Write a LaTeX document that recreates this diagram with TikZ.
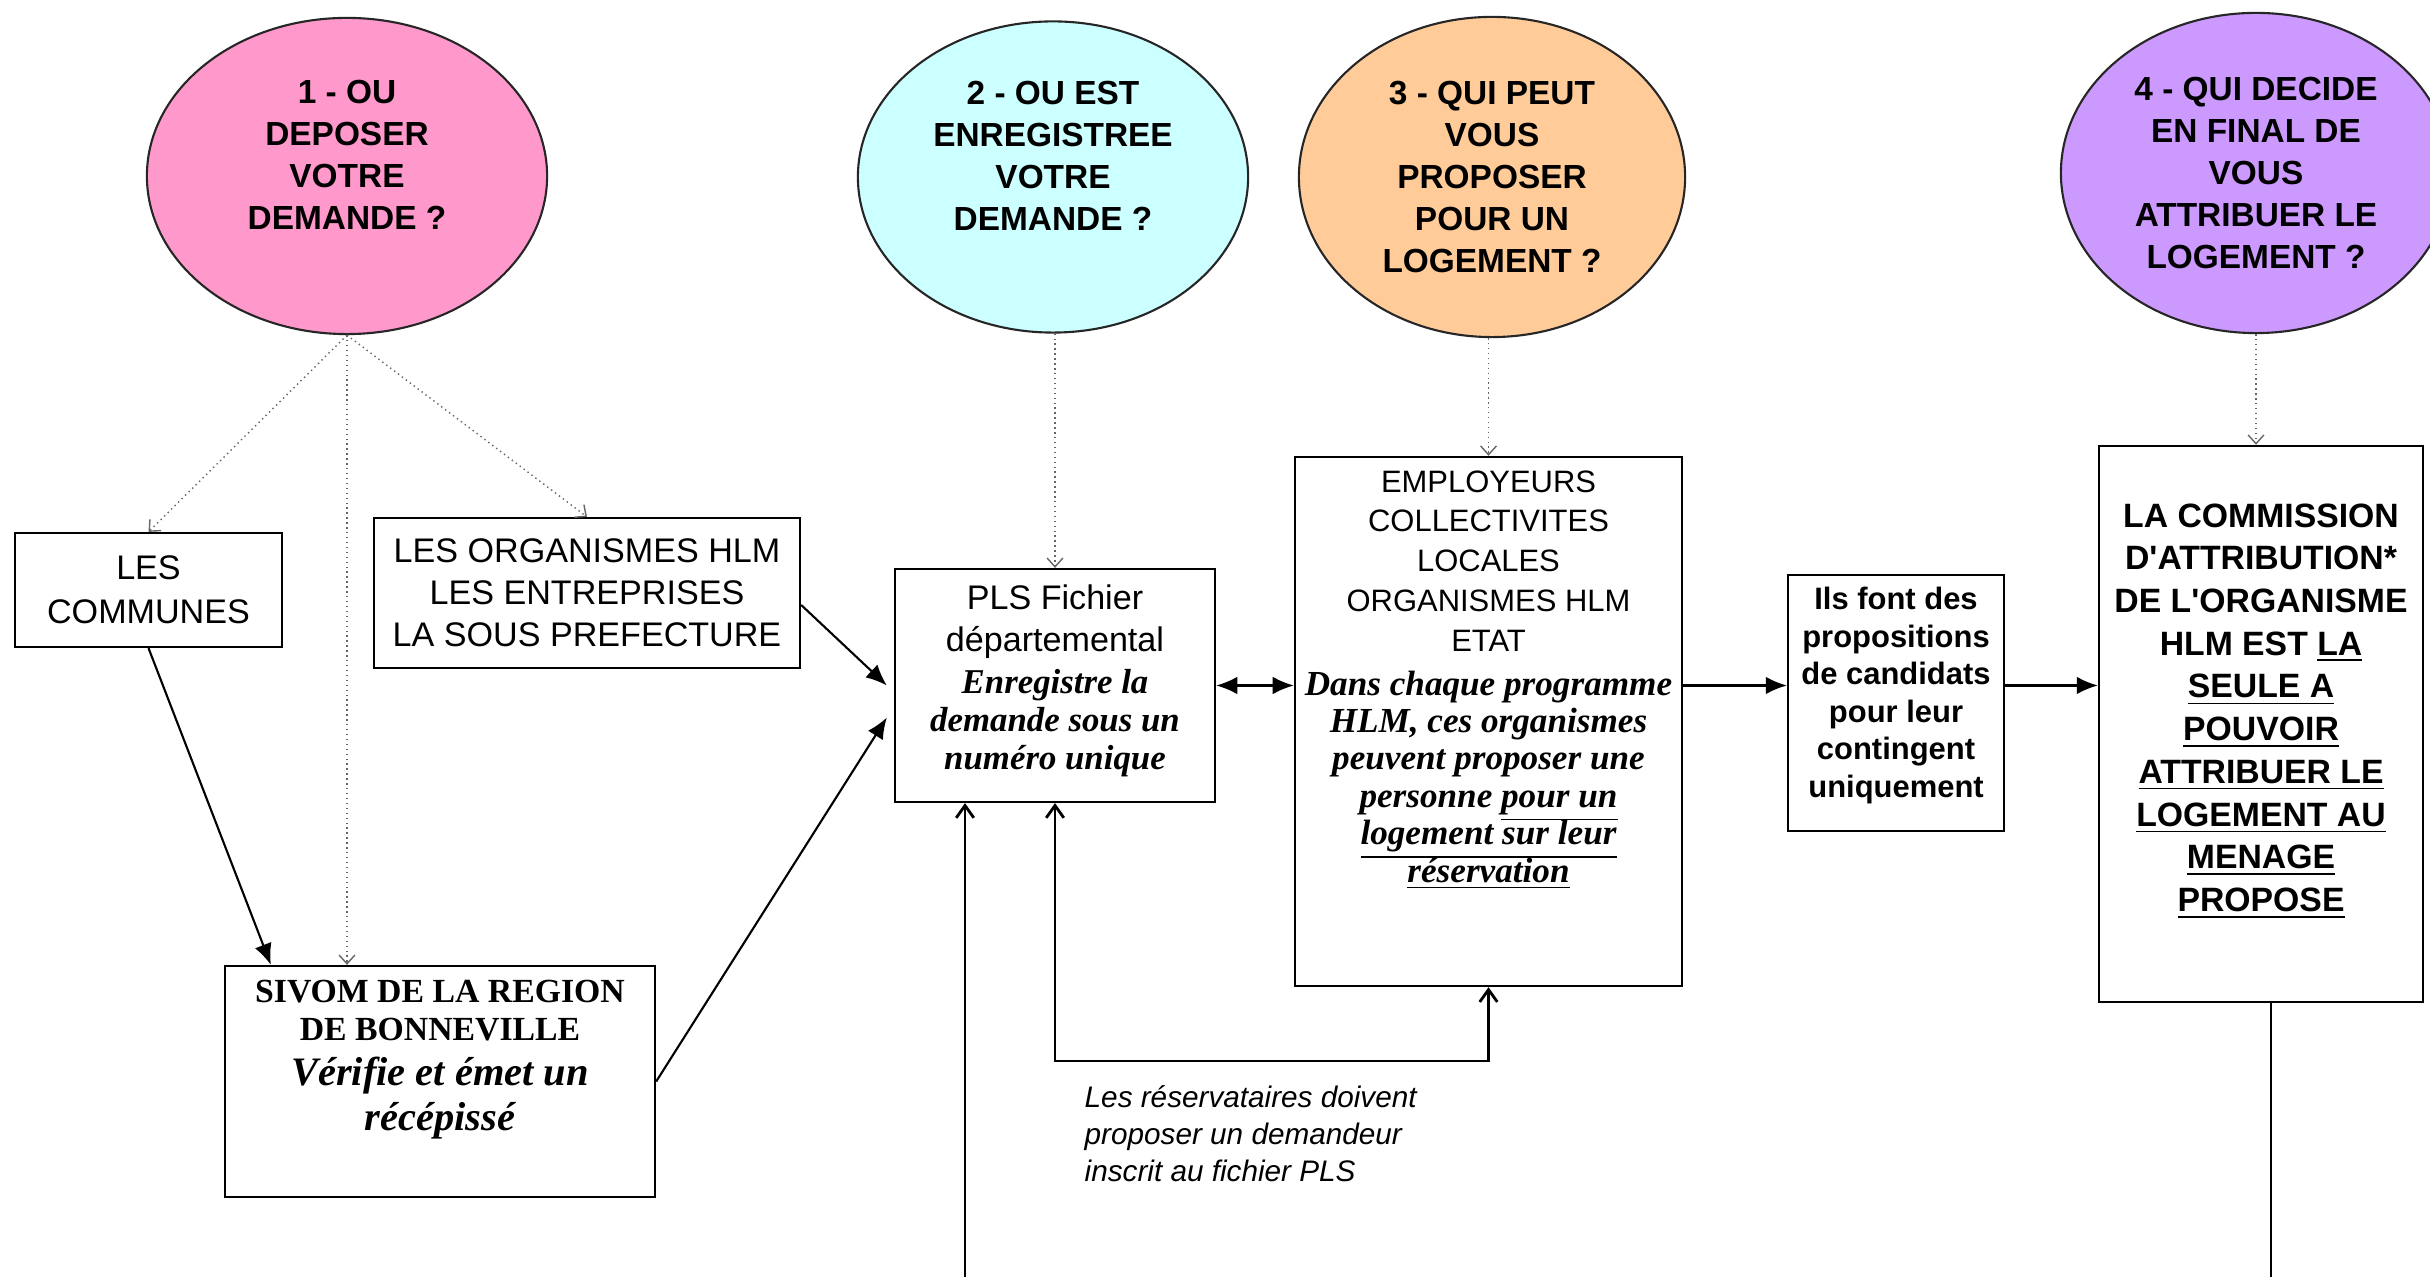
\documentclass[tikz,border=0pt]{standalone}
\usepackage{fontspec}
\setmainfont{Liberation Sans}
\newfontfamily\timesfont{Liberation Serif}
\usetikzlibrary{shapes.geometric,arrows.meta,positioning}

\definecolor{bubblepink}{HTML}{FF99CC}
\definecolor{bubblecyan}{HTML}{CCFFFF}
\definecolor{bubbleorange}{HTML}{FFCC99}
\definecolor{bubblepurple}{HTML}{CC99FF}
\newcommand\ulline[1]{\smash{\underline{#1}}}

\begin{document}
\begin{tikzpicture}[x=0.01cm, y=-0.01cm,
    bubble/.style={ellipse, draw=black!85, line width=0.6pt, inner sep=0pt, align=center, font=\fontsize{9.5}{12}\selectfont\bfseries},
    box/.style={draw, line width=0.6pt, rectangle, inner sep=0pt},
    txt/.style={inner sep=0pt, align=center},
    link/.style={line width=0.6pt, -{Latex[length=6pt,width=5pt]}},
    twoway/.style={line width=0.6pt, {Latex[length=6pt,width=5pt]}-{Latex[length=6pt,width=5pt]}},
    hint/.style={densely dotted, black!60, line width=0.4pt, -{Straight Barb[length=2.5pt,width=4.5pt]}},
    back/.style={line width=0.6pt, -{Straight Barb[length=3.5pt,width=5pt,line width=0.8pt]}},
    backboth/.style={line width=0.6pt, {Straight Barb[length=3.5pt,width=5pt,line width=0.8pt]}-{Straight Barb[length=3.5pt,width=5pt,line width=0.8pt]}}
  ]
    \useasboundingbox (0,0) rectangle (2430,1277);

    % the four questions
    \node[bubble, fill=bubblepink, minimum width=4cm, minimum height=3.16cm] (q1) at (347,176) {1 - OU\\DEPOSER\\VOTRE\\DEMANDE ?\\\mbox{}};
    \node[bubble, fill=bubblecyan, minimum width=3.9cm, minimum height=3.11cm] (q2) at (1053,177) {2 - OU EST\\ENREGISTREE\\VOTRE\\DEMANDE ?\\\mbox{}};
    \node[bubble, fill=bubbleorange, minimum width=3.86cm, minimum height=3.2cm] (q3) at (1492,177) {3 - QUI PEUT\\VOUS\\PROPOSER\\POUR UN\\LOGEMENT ?};
    \node[bubble, fill=bubblepurple, minimum width=3.9cm, minimum height=3.2cm] (q4) at (2256,173) {4 - QUI DECIDE\\EN FINAL DE\\VOUS\\ATTRIBUER LE\\LOGEMENT ?};

    \node[box, txt, minimum width=2.67cm, minimum height=1.14cm, font=\fontsize{9.7}{12.6}\selectfont] (communes) at (148.5,590) {LES\\COMMUNES};
    \node[box, txt, minimum width=4.26cm, minimum height=1.5cm, font=\fontsize{9.7}{12}\selectfont] (orga) at (587,593) {LES ORGANISMES HLM\\LES ENTREPRISES\\LA SOUS PREFECTURE};

    \node[box, minimum width=4.3cm, minimum height=2.31cm] (sivom) at (440,1081.5) {};
    \node[txt, anchor=north, yshift=-0.15cm, font=\timesfont\bfseries\fontsize{9.6}{10.8}\selectfont] (sivomname) at (sivom.north) {SIVOM DE LA REGION\\DE BONNEVILLE};
    \node[txt, anchor=north, yshift=-0.91cm, font=\timesfont\bfseries\itshape\fontsize{11.5}{12.8}\selectfont] (sivomrole) at (sivom.north) {Vérifie et émet un\\récépissé};

    \node[box, minimum width=3.2cm, minimum height=2.33cm] (pls) at (1055,685.5) {};
    \node[txt, anchor=north, yshift=-0.16cm, font=\fontsize{9.7}{12}\selectfont] (plsname) at (pls.north) {PLS Fichier\\départemental};
    \node[txt, anchor=north, yshift=-1.01cm, font=\timesfont\bfseries\itshape\fontsize{9.9}{10.7}\selectfont] (plsrole) at (pls.north) {Enregistre la\\demande sous un\\numéro unique};

    \node[box, minimum width=3.87cm, minimum height=5.29cm] (empl) at (1488.5,721.5) {};
    \node[txt, anchor=north, yshift=-0.14cm, font=\fontsize{8.8}{11.3}\selectfont] (emplname) at (empl.north) {EMPLOYEURS\\COLLECTIVITES\\LOCALES\\ORGANISMES HLM\\ETAT};
    \node[txt, anchor=north, yshift=-2.14cm, font=\timesfont\bfseries\itshape\fontsize{10}{10.64}\selectfont] (emplrole) at (empl.north) {Dans chaque programme\\HLM, ces organismes\\peuvent proposer une\\personne \ulline{pour un}\\\ulline{logement sur leur}\\\ulline{réservation}};

    \node[box, minimum width=2.16cm, minimum height=2.56cm] (ils) at (1896,703) {};
    \node[txt, anchor=north, yshift=-0.13cm, font=\bfseries\fontsize{8.8}{10.64}\selectfont] (ilstext) at (ils.north) {Ils font des\\propositions\\de candidats\\pour leur\\contingent\\uniquement};

    \node[box, minimum width=3.24cm, minimum height=5.56cm] (comm) at (2261,724) {};
    \node[txt, anchor=north, yshift=-0.58cm, font=\bfseries\fontsize{9.6}{12.15}\selectfont] (commtext) at (comm.north) {LA COMMISSION\\D\textquotesingle ATTRIBUTION*\\DE L\textquotesingle ORGANISME\\HLM EST \ulline{LA}\\\ulline{SEULE A}\\\ulline{POUVOIR}\\\ulline{ATTRIBUER LE}\\\ulline{LOGEMENT AU}\\\ulline{MENAGE}\\\ulline{PROPOSE}};

    \node[txt, align=left, anchor=north west, font=\itshape\fontsize{8.45}{10.5}\selectfont] (note) at (1084,1085) {Les réservataires doivent\\proposer un demandeur\\inscrit au fichier PLS};

    % dotted links from the questions
    \draw[hint] (q1.south) -- (communes.north);
    \draw[hint] (q1.south) -- (q1.south |- sivom.north);
    \draw[hint] (q1.south) -- (orga.north);
    \draw[hint] (q2.south -| pls.north) -- (pls.north);
    \draw[hint] (q3.south -| empl.north) -- (empl.north);
    \draw[hint] (q4.south) -- (q4.south |- comm.north);

    \draw[link] (communes.south) -- ([xshift=0.47cm]sivom.north west);
    \draw[link] ([yshift=-0.12cm]orga.east) -- ([xshift=-0.07cm]pls.west);
    \draw[link] (sivom.east) -- ([xshift=-0.07cm, yshift=-0.32cm]pls.west);
    \draw[twoway] (pls.east) -- (pls.east -| empl.west);
    \draw[link] (pls.east -| empl.east) -- (pls.east -| ils.west);
    \draw[link] (pls.east -| ils.east) -- (pls.east -| comm.west);

    \draw[backboth] (pls.south) -- ++(0,258) -| (empl.south);
    \coordinate (plsin) at (965,1290);
    \draw[back] (plsin) -- (plsin |- pls.south);
    \draw[line width=0.6pt] ([xshift=0.1cm]comm.south) -- ++(0,290);
\end{tikzpicture}
\end{document}
